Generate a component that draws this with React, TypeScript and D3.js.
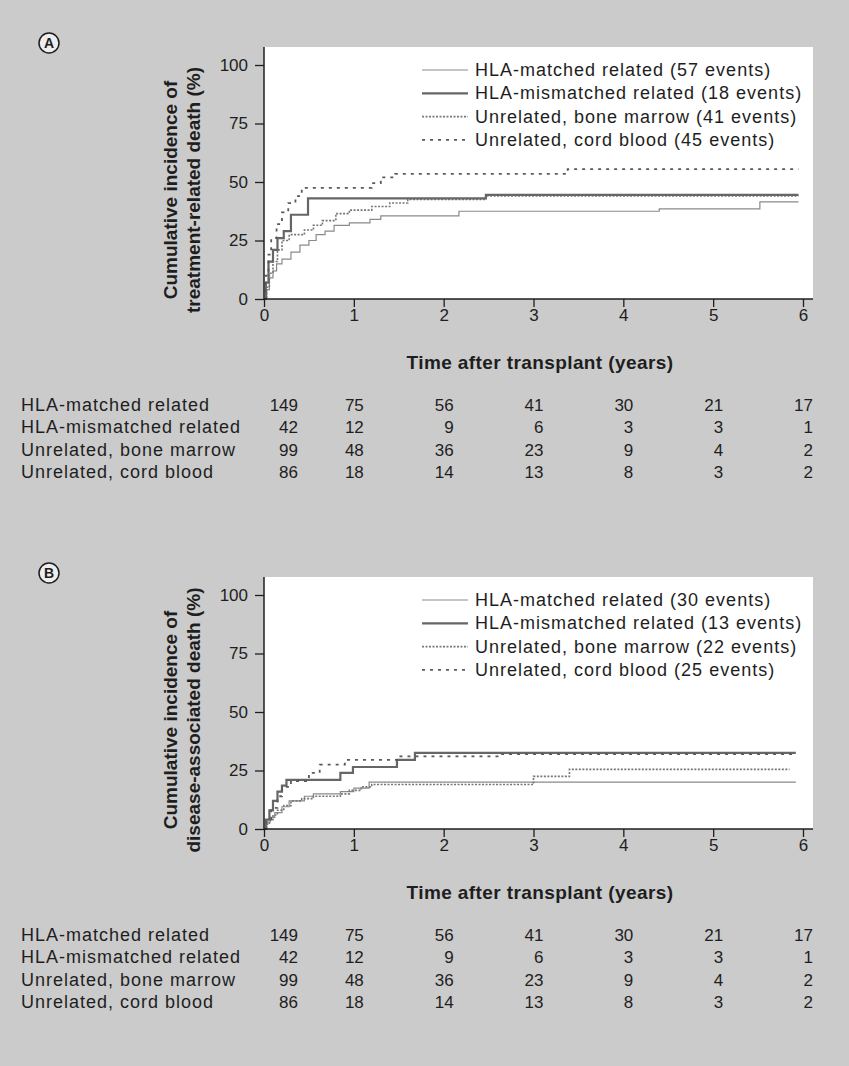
import React, { useEffect, useRef } from 'react';
import * as d3 from 'd3';

// time axis (years after transplant) and y ticks
const years = [0, 1, 2, 3, 4, 5, 6];
const yTicks = [0, 25, 50, 75, 100];

const groups = [
  'HLA-matched related',
  'HLA-mismatched related',
  'Unrelated, bone marrow',
  'Unrelated, cord blood',
];

// events per group shown in legends
const trmEvents = [57, 18, 41, 45];
const dadEvents = [30, 13, 22, 25];

// number at risk at 0..6 years
const riskMatched = [149, 75, 56, 41, 30, 21, 17];
const riskMismatched = [42, 12, 9, 6, 3, 3, 1];
const riskMarrow = [99, 48, 36, 23, 9, 4, 2];
const riskCord = [86, 18, 14, 13, 8, 3, 2];

// cumulative incidence of treatment-related death (%), step points [year, %]
const trmMatched = [[0, 0], [0.03, 4], [0.06, 9], [0.1, 12], [0.14, 15], [0.2, 17], [0.3, 20], [0.4, 23], [0.5, 25], [0.58, 27.5], [0.68, 29], [0.78, 31.5], [0.95, 32.5], [1.18, 34], [1.3, 35.5], [2.17, 37.5], [4.4, 38.5], [5.52, 41.5], [5.95, 41.5]];
const trmMismatched = [[0, 0], [0.02, 7], [0.05, 16], [0.1, 21], [0.15, 26], [0.22, 29], [0.3, 36], [0.49, 43], [2.47, 44.5], [5.95, 44.5]];
const trmMarrow = [[0, 0], [0.03, 5], [0.06, 11], [0.1, 16], [0.15, 21], [0.2, 25], [0.28, 27.5], [0.45, 29.5], [0.55, 31.5], [0.65, 33.5], [0.8, 36.5], [0.95, 38], [1.2, 39.5], [1.4, 41], [1.6, 42.5], [2.47, 44], [5.95, 44]];
const trmCord = [[0, 0], [0.02, 10], [0.05, 19], [0.08, 26], [0.14, 32], [0.2, 37], [0.27, 41], [0.35, 44], [0.42, 47.5], [1.2, 49.5], [1.3, 52], [1.46, 53.5], [3.38, 55.5], [5.95, 55.5]];

// cumulative incidence of disease-associated death (%)
const dadMatched = [[0, 0], [0.03, 3], [0.07, 5], [0.12, 7], [0.2, 9.5], [0.28, 12], [0.45, 14], [0.55, 15], [0.85, 16], [1.0, 17.5], [1.17, 20], [5.92, 20]];
const dadMismatched = [[0, 0], [0.02, 4], [0.06, 8], [0.1, 12], [0.15, 16], [0.2, 18.5], [0.25, 21], [0.85, 24], [0.99, 26.5], [1.48, 29.5], [1.68, 32.5], [5.92, 32.5]];
const dadMarrow = [[0, 0], [0.03, 2], [0.06, 4], [0.1, 6], [0.15, 8], [0.22, 10], [0.3, 12], [0.42, 13], [0.55, 14], [0.85, 15], [0.95, 16.5], [1.08, 18], [1.2, 19], [3.0, 22.5], [3.4, 25.5], [5.85, 25.5]];
const dadCord = [[0, 0], [0.03, 4], [0.08, 9], [0.15, 14], [0.2, 18], [0.3, 20.5], [0.5, 24], [0.62, 27.5], [0.9, 29.5], [1.5, 31], [2.6, 32], [5.9, 32]];

const font = '"Liberation Sans", Arial, sans-serif';
const ink = '#1e1e1e';

const lineStyles = [
  { stroke: '#8a8a8a', width: 1.2, dash: null },
  { stroke: '#666', width: 2.2, dash: null },
  { stroke: '#777', width: 1.6, dash: '2,1.5' },
  { stroke: '#5a5a5a', width: 1.8, dash: '3,5' },
];

const drawPanel = (svg, top, letter, titleLine2, curves, events) => {
  const x = d3.scaleLinear().domain([0, 6]).range([264, 803]);
  const y = d3.scaleLinear().domain([0, 100]).range([top + 299, top + 65]);
  const g = svg.append('g');

  g.append('rect')
    .attr('x', 264).attr('y', top + 47)
    .attr('width', 549).attr('height', 252)
    .attr('fill', '#fff');

  const line = d3.line().x(d => x(d[0])).y(d => y(d[1])).curve(d3.curveStepAfter);
  [0, 2, 1, 3].forEach(i => {
    const s = lineStyles[i];
    g.append('path')
      .datum(curves[i])
      .attr('d', line)
      .attr('fill', 'none')
      .attr('stroke', s.stroke)
      .attr('stroke-width', s.width)
      .attr('stroke-dasharray', s.dash);
  });

  // axes
  const ya = g.append('g')
    .attr('transform', 'translate(264,0)')
    .call(d3.axisLeft(y).tickValues(yTicks).tickSize(9).tickPadding(7).tickSizeOuter(0));
  ya.select('.domain').remove();
  ya.selectAll('line').attr('stroke', ink).attr('stroke-width', 1.3);
  ya.selectAll('text').attr('font-size', 17).attr('font-family', font).attr('fill', ink);

  const xa = g.append('g')
    .attr('transform', `translate(0,${top + 299})`)
    .call(d3.axisBottom(x).tickValues(years).tickFormat(d3.format('d')).tickSize(8).tickPadding(2).tickSizeOuter(0));
  xa.select('.domain').remove();
  xa.selectAll('line').attr('stroke', ink).attr('stroke-width', 1.3);
  xa.selectAll('text').attr('font-size', 17).attr('font-family', font).attr('fill', ink);

  g.append('line').attr('x1', 264).attr('x2', 264).attr('y1', top + 47).attr('y2', top + 299)
    .attr('stroke', ink).attr('stroke-width', 1.5);
  g.append('line').attr('x1', 264).attr('x2', 813).attr('y1', top + 299).attr('y2', top + 299)
    .attr('stroke', ink).attr('stroke-width', 1.5);

  // titles
  g.append('text')
    .attr('x', 540).attr('y', top + 369)
    .attr('text-anchor', 'middle')
    .attr('font-family', font).attr('font-weight', 'bold').attr('font-size', 19)
    .attr('letter-spacing', 0.4)
    .attr('fill', ink)
    .text('Time after transplant (years)');

  ['Cumulative incidence of', titleLine2].forEach((t, i) => {
    g.append('text')
      .attr('transform', `translate(${177 + i * 23},${top + 190}) rotate(-90)`)
      .attr('text-anchor', 'middle')
      .attr('font-family', font).attr('font-weight', 'bold').attr('font-size', 19)
      .attr('fill', ink)
      .text(t);
  });

  // panel letter
  g.append('circle').attr('cx', 49).attr('cy', top + 43).attr('r', 10)
    .attr('fill', '#eee').attr('stroke', ink).attr('stroke-width', 1.5);
  g.append('text')
    .attr('x', 49).attr('y', top + 48)
    .attr('text-anchor', 'middle')
    .attr('font-family', font).attr('font-weight', 'bold').attr('font-size', 14)
    .attr('fill', ink)
    .text(letter);

  // legend
  groups.forEach((name, i) => {
    const ly = top + 70 + i * 23.3;
    const s = lineStyles[i];
    g.append('line')
      .attr('x1', 422).attr('x2', 468).attr('y1', ly).attr('y2', ly)
      .attr('stroke', s.stroke).attr('stroke-width', s.width).attr('stroke-dasharray', s.dash);
    g.append('text')
      .attr('x', 475).attr('y', ly + 6)
      .attr('font-family', font).attr('font-size', 18).attr('letter-spacing', 1)
      .attr('fill', ink)
      .text(`${name} (${events[i]} events)`);
  });

  // number at risk table
  const risk = [riskMatched, riskMismatched, riskMarrow, riskCord];
  groups.forEach((name, i) => {
    const ry = top + 411 + i * 22.4;
    g.append('text')
      .attr('x', 21).attr('y', ry)
      .attr('font-family', font).attr('font-size', 18).attr('letter-spacing', 1)
      .attr('fill', ink)
      .text(name);
    risk[i].forEach((n, j) => {
      g.append('text')
        .attr('x', x(years[j]) + (j === 0 ? 34 : 10)).attr('y', ry)
        .attr('text-anchor', 'end')
        .attr('font-family', font).attr('font-size', 17)
        .attr('fill', ink)
        .text(n);
    });
  });
};

const App = () => {
  const svgRef = useRef(null);

  useEffect(() => {
    const svg = d3.select(svgRef.current);
    svg.selectAll('*').remove();

    svg.append('rect').attr('width', 849).attr('height', 1066).attr('fill', '#cbcbcb');

    drawPanel(svg, 0, 'A', 'treatment-related death (%)',
      [trmMatched, trmMismatched, trmMarrow, trmCord], trmEvents);
    drawPanel(svg, 530, 'B', 'disease-associated death (%)',
      [dadMatched, dadMismatched, dadMarrow, dadCord], dadEvents);
  }, []);

  return (
    <div style={{ position: 'absolute', left: 0, top: 0 }}>
      <svg ref={svgRef} width={849} height={1066} style={{ display: 'block' }}></svg>
    </div>
  );
};

export default App;
